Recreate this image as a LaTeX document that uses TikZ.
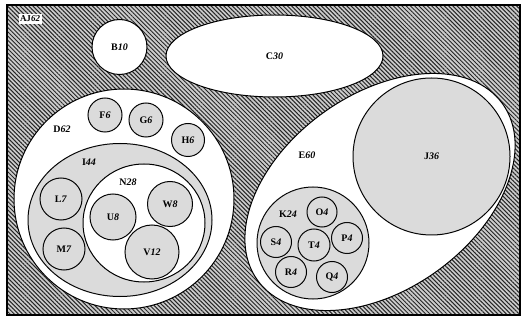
\documentclass[tikz,border=0pt]{standalone}
\usepackage{fontspec}
\setmainfont{Liberation Serif}
\usetikzlibrary{shapes.geometric,patterns.meta}
\newcommand\vlab[2]{\textbf{#1\textit{#2}}}
\begin{document}
\begin{tikzpicture}[x=1pt,y=1pt,
  font=\fontsize{10}{12}\selectfont,
  hatchbg/.style={fill=gray!40, postaction={pattern={Lines[angle=-45,distance=3pt,line width=1pt]}, pattern color=black!85}},
  whiteset/.style={draw=black, line width=1pt, fill=white, inner sep=0pt},
  dotset/.style={draw=black, line width=1pt, fill=gray!22, postaction={pattern={Dots[distance=2pt,radius=0.45pt]}, pattern color=black!45}, inner sep=0pt},
  circ/.style={circle, minimum size=#1},
  ell/.style 2 args={ellipse, minimum width=#1, minimum height=#2},
  lbl/.style={inner sep=0pt},
]
\useasboundingbox (0,0) rectangle (521,321);
% background and frame
\fill[hatchbg] (7,6) rectangle (521,316);
\draw[line width=2.5pt] (7,6) rectangle (520,316);
\node[fill=white, inner sep=1.5pt, font=\fontsize{9}{11}\selectfont] (aj) at (30,302) {\vlab{AJ}{62}};

% top sets
\node[whiteset, circ=55pt] (b) at (119.5,274) {\vlab{B}{10}};
\node[whiteset, ell={217pt}{82pt}] (c) at (274.5,265) {\vlab{C}{30}};

% D set
\node[whiteset, circ=220pt] (d) at (124,122) {};
\node[lbl] (dl) at (62,192) {\vlab{D}{62}};
\node[dotset, circ=34pt] (f) at (105,206) {\vlab{F}{6}};
\node[dotset, circ=34pt] (g) at (146,201) {\vlab{G}{6}};
\node[dotset, circ=33pt] (h) at (188,181) {\vlab{H}{6}};
\node[dotset, ell={184pt}{153pt}] (i) at (120,101) {};
\node[lbl] (il) at (89,159) {\vlab{I}{44}};
\node[dotset, circ=42pt] (l) at (61,122) {\vlab{L}{7}};
\node[dotset, circ=42pt] (m) at (64,72) {\vlab{M}{7}};
\node[whiteset, ell={122pt}{118pt}] (n) at (144,98) {};
\node[lbl] (nl) at (128,139) {\vlab{N}{28}};
\node[dotset, circ=46pt] (u) at (113,104) {\vlab{U}{8}};
\node[dotset, circ=45pt] (w) at (170,117) {\vlab{W}{8}};
\node[dotset, circ=54pt] (v) at (152,69) {\vlab{V}{12}};

% E set
\node[whiteset, ell={302pt}{195pt}, rotate=35.8] (e) at (380,129) {};
\node[lbl] (el) at (307,166) {\vlab{E}{60}};
\node[dotset, circ=157pt] (j) at (431.5,164.5) {\vlab{J}{36}};
\node[dotset, circ=112pt] (k) at (313,78) {};
\node[lbl] (kl) at (288,107) {\vlab{K}{24}};
\node[dotset, circ=30pt] (o) at (322,109) {\vlab{O}{4}};
\node[dotset, circ=31pt] (s) at (276,79) {\vlab{S}{4}};
\node[dotset, circ=32pt] (t) at (314,76) {\vlab{T}{4}};
\node[dotset, circ=31pt] (p) at (347,83) {\vlab{P}{4}};
\node[dotset, circ=31pt] (r) at (291,49) {\vlab{R}{4}};
\node[dotset, circ=31pt] (q) at (332,44) {\vlab{Q}{4}};
\end{tikzpicture}
\end{document}
